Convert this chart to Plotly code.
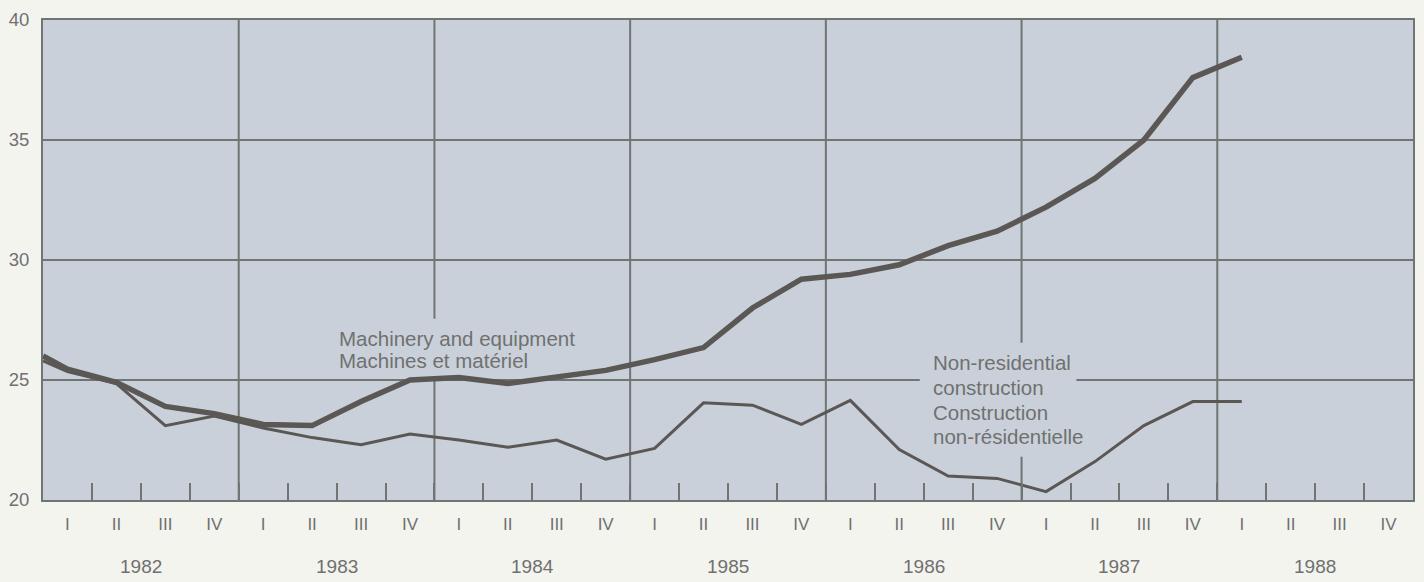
import plotly.graph_objects as go

# ---- data -------------------------------------------------------------
years = ["1982", "1983", "1984", "1985", "1986", "1987", "1988"]
quarter_labels = ["I", "II", "III", "IV"]

# quarter index: 0 = 1982 I, 1 = 1982 II, ... ; the first reading sits on the left edge
quarter_index = [-0.5, 0, 1, 2, 3, 4, 5, 6, 7, 8, 9, 10, 11, 12,
                 13, 14, 15, 16, 17, 18, 19, 20, 21, 22, 23, 24]

machinery = [26.0, 25.45, 24.9, 23.9, 23.6, 23.15, 23.1, 24.1, 25.0, 25.1,
             24.85, 25.1, 25.4, 25.85, 26.35, 28.0, 29.2, 29.4, 29.8, 30.6,
             31.2, 32.2, 33.4, 35.0, 37.6, 38.45]

non_residential = [25.8, 25.35, 24.85, 23.1, 23.5, 23.0, 22.6, 22.3, 22.75, 22.5,
                   22.2, 22.5, 21.7, 22.15, 24.05, 23.95, 23.15, 24.15, 22.1, 21.0,
                   20.9, 20.35, 21.6, 23.1, 24.1, 24.1]

y_ticks = [20, 25, 30, 35, 40]

label_machinery = ["Machinery and equipment", "Machines et matériel"]
label_nonres = ["Non-residential", "construction", "Construction", "non-résidentielle"]

# ---- styling ----------------------------------------------------------
PAPER = "#f4f4ef"
PLOT = "#c9d0d9"
GRID = "#6f7572"
LINE = "#5a5755"
TEXT = "#707070"
FONT = "Liberation Sans, Arial, sans-serif"

n_q = len(years) * 4
q_centers = list(range(n_q))
q_text = [quarter_labels[i % 4] for i in range(n_q)]
q_bounds = [i + 0.5 for i in range(n_q - 1)]
year_bounds = [4 * k - 0.5 for k in range(1, len(years))]
year_centers = [4 * k + 1.5 for k in range(len(years))]

fig = go.Figure()
fig.add_trace(go.Scatter(x=quarter_index, y=non_residential, mode="lines",
                         line=dict(color=LINE, width=3), cliponaxis=False,
                         hoverinfo="skip", showlegend=False))
fig.add_trace(go.Scatter(x=quarter_index, y=machinery, mode="lines",
                         line=dict(color=LINE, width=5.5), cliponaxis=False,
                         hoverinfo="skip", showlegend=False))

# vertical year gridlines
for xb in year_bounds:
    fig.add_shape(type="line", xref="x", yref="paper", x0=xb, x1=xb, y0=0, y1=1,
                  line=dict(color=GRID, width=2), layer="below")

# year labels
for yc, ylab in zip(year_centers, years):
    fig.add_annotation(x=yc, y=-0.138, xref="x", yref="paper", text=ylab,
                       showarrow=False, font=dict(size=19, color=TEXT, family=FONT),
                       yanchor="middle")

# blank patches behind the series labels (hide gridlines, stay under the lines)
fig.add_shape(type="rect", xref="x", yref="y", x0=5.36, x1=10.66, y0=25.08, y1=27.55,
              fillcolor=PLOT, line=dict(width=0), layer="between")
fig.add_shape(type="rect", xref="x", yref="y", x0=17.42, x1=20.62, y0=21.8, y1=26.55,
              fillcolor=PLOT, line=dict(width=0), layer="between")

for i, txt in enumerate(label_machinery):
    fig.add_annotation(x=5.5, y=26.75 - 0.95 * i, xref="x", yref="y", text=txt,
                       showarrow=False, xanchor="left", yanchor="middle",
                       font=dict(size=20.5, color=TEXT, family=FONT))
for i, txt in enumerate(label_nonres):
    fig.add_annotation(x=17.64, y=25.72 - 1.03 * i, xref="x", yref="y", text=txt,
                       showarrow=False, xanchor="left", yanchor="middle",
                       font=dict(size=20.5, color=TEXT, family=FONT))

fig.update_layout(
    width=1424, height=582,
    margin=dict(l=43, r=9, t=14, b=82),
    paper_bgcolor=PAPER, plot_bgcolor=PLOT,
    font=dict(family=FONT, color=TEXT),
    xaxis=dict(range=[-0.5, n_q - 0.5], tickmode="array", tickvals=q_centers,
               ticktext=q_text, ticks="", showgrid=False, zeroline=False,
               tickfont=dict(size=17, color=TEXT), ticklabelstandoff=8,
               showline=True, linecolor=GRID, linewidth=2, mirror=True,
               minor=dict(tickmode="array", tickvals=q_bounds, ticks="inside",
                          ticklen=17, tickwidth=2, tickcolor=GRID, showgrid=False)),
    yaxis=dict(range=[20, 40], tickmode="array", tickvals=y_ticks, ticks="",
               showgrid=True, gridcolor=GRID, gridwidth=2, zeroline=False,
               tickfont=dict(size=18.5, color=TEXT), ticklabelstandoff=8,
               showline=True, linecolor=GRID, linewidth=2, mirror=True),
)

fig.write_html("out.html", config={"displayModeBar": False},
               post_script="document.body.style.margin='0';document.body.style.background='%s';" % PAPER)
